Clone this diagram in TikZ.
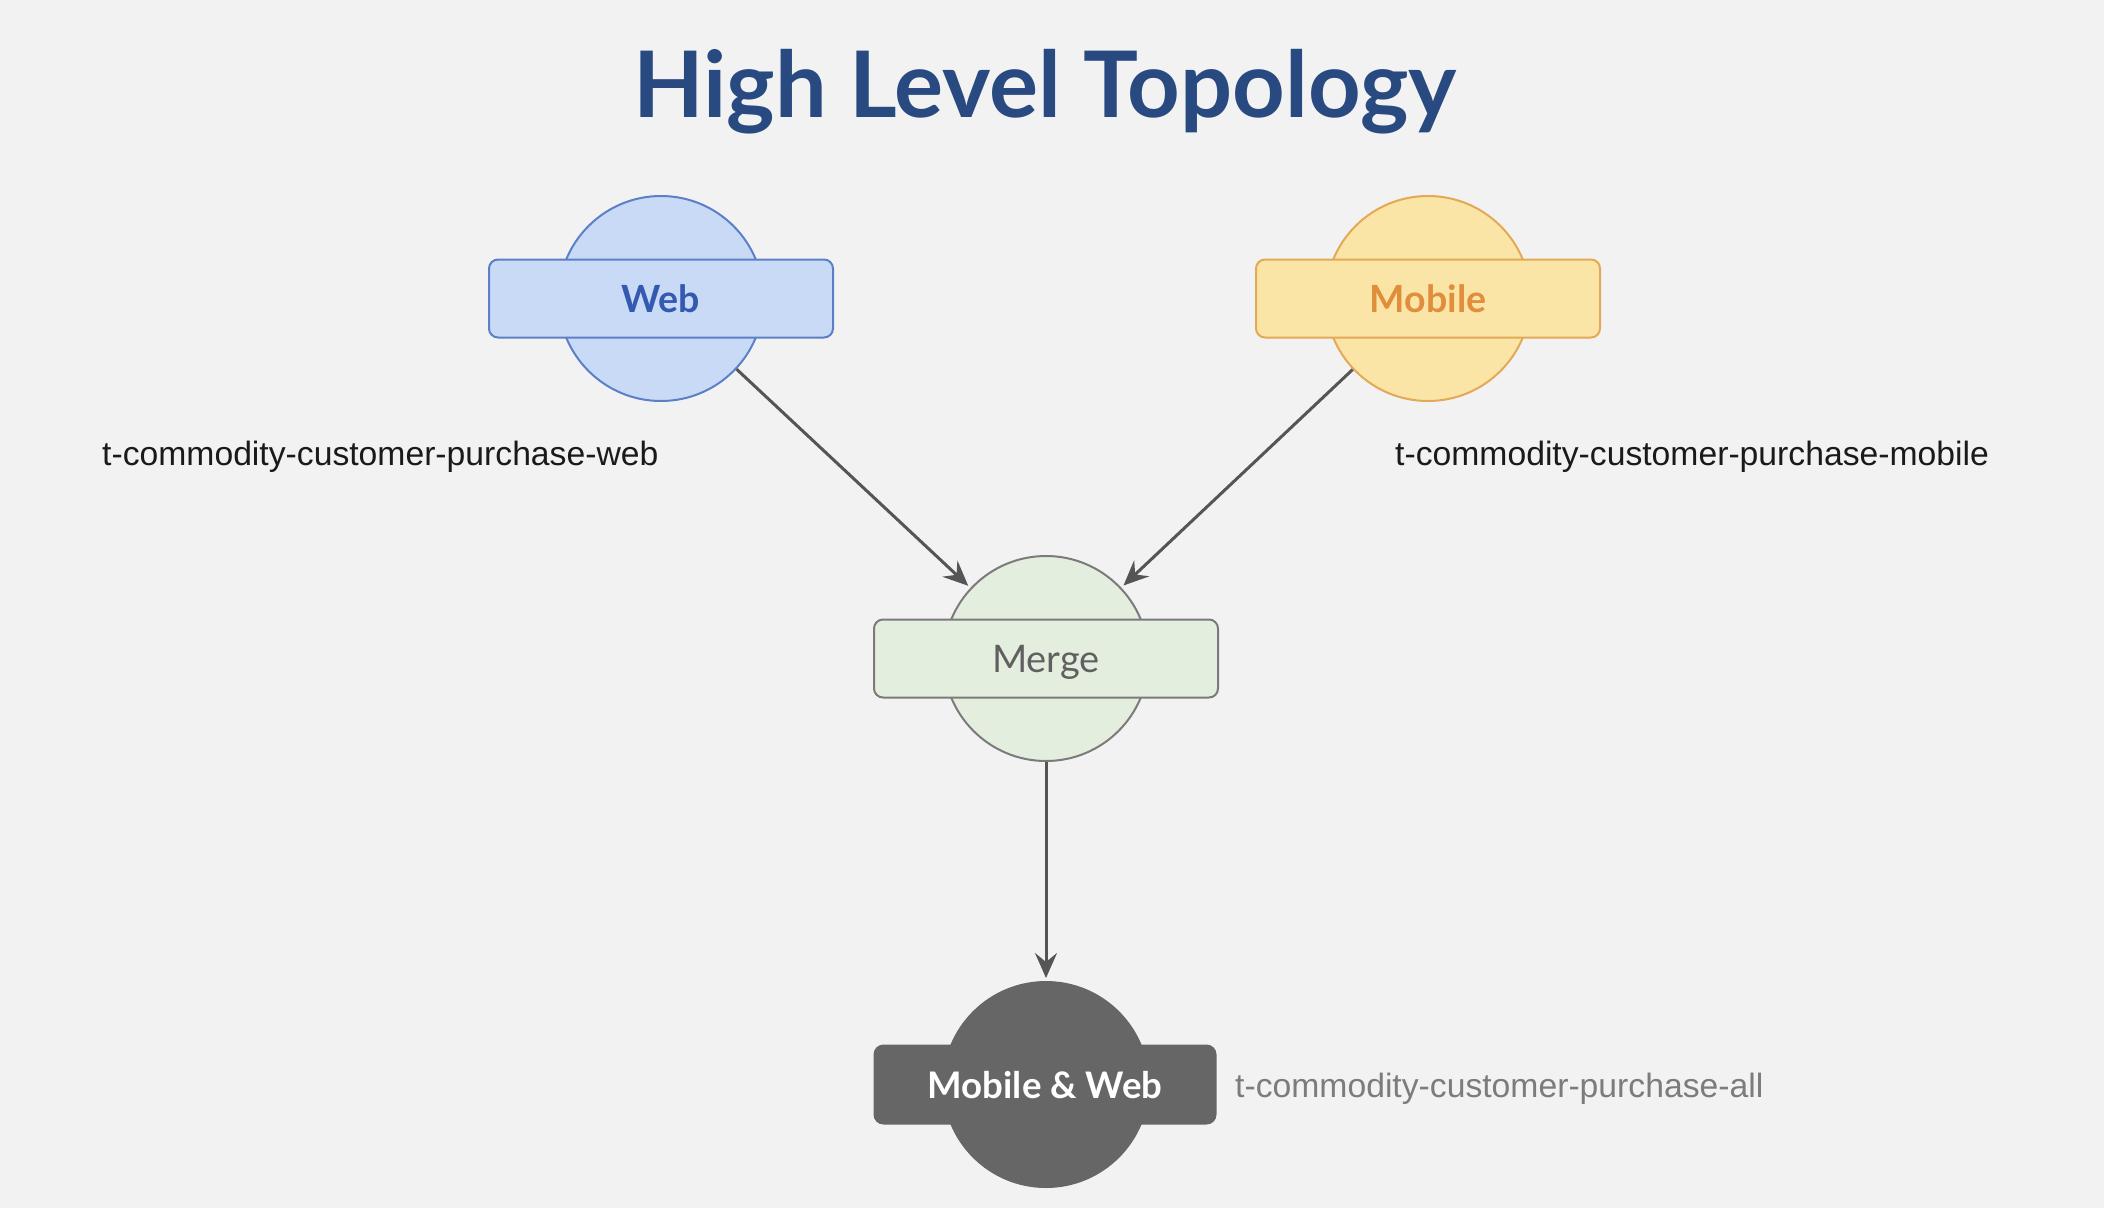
\documentclass[tikz,border=0pt]{standalone}
\usepackage{fontspec}
\newfontfamily\lato{Lato}
\newfontfamily\arial{Liberation Sans}
\usetikzlibrary{arrows.meta}
\definecolor{bg}{HTML}{F2F2F2}
\definecolor{titlec}{HTML}{284A80}
\definecolor{webfill}{HTML}{C9DAF6}
\definecolor{webline}{HTML}{5B80C8}
\definecolor{webtext}{HTML}{3359B0}
\definecolor{mobfill}{HTML}{FAE5A6}
\definecolor{mobline}{HTML}{E3A957}
\definecolor{mobtext}{HTML}{E08E3C}
\definecolor{mrgfill}{HTML}{E4EEDE}
\definecolor{mrgline}{HTML}{7B7B7B}
\definecolor{mrgtext}{HTML}{606060}
\definecolor{allfill}{HTML}{666666}
\definecolor{alltext}{HTML}{7C7C7C}
\definecolor{labc}{HTML}{1A1A1A}
\definecolor{linec}{HTML}{555555}
\tikzset{
  disc/.style={circle, minimum size=205pt, inner sep=0pt, line width=2pt},
  bar/.style={rectangle, rounded corners=9pt, minimum width=344pt, minimum height=78pt,
    inner sep=0pt, line width=2pt, text height=27pt, text depth=0pt,
    font=\lato\fontsize{38}{42}\selectfont},
  link/.style={draw=linec, line width=3pt, -{Stealth[length=25pt,width=22pt,inset=9pt]}, shorten >=3pt},
  topic/.style={anchor=base west, inner sep=0pt, font=\arial\fontsize{33.7}{40}\selectfont}
}
\begin{document}
\begin{tikzpicture}[x=1pt,y=-1pt]
\fill[bg] (0,0) rectangle (2104,1208);
\useasboundingbox (0,0) rectangle (2104,1208);
\node[anchor=base, inner sep=0pt, text=titlec, font=\lato\bfseries\fontsize{91.8}{100}\selectfont] (title) at (1045,117) {High Level Topology};
% Web
\node[disc, fill=webfill, draw=webline] (web) at (661,298.5) {};
\node[bar, fill=webfill, draw=webline, text=webtext, font=\lato\bfseries\fontsize{37.5}{42}\selectfont] (webbox) at (661,298.5) {Web};
% Mobile
\node[disc, fill=mobfill, draw=mobline] (mob) at (1428,298.5) {};
\node[bar, fill=mobfill, draw=mobline, text=mobtext, font=\lato\bfseries\fontsize{37.5}{42}\selectfont] (mobbox) at (1428,298.5) {Mobile};
% Merge
\node[disc, fill=mrgfill, draw=mrgline] (merge) at (1046,658.5) {};
\node[bar, fill=mrgfill, draw=mrgline, text=mrgtext] (mergebox) at (1046,658.5) {Merge};
% All
\node[disc, fill=allfill, draw=allfill] (all) at (1046,1084.5) {};
\node[bar, minimum width=341pt, fill=allfill, draw=allfill, text=white, font=\lato\bfseries\fontsize{36.6}{42}\selectfont] (allbox) at (1045,1084.5) {Mobile \& Web};
% labels
\node[topic, text=labc] (webl) at (102,465) {t-commodity-customer-purchase-web};
\node[topic, text=labc] (mobl) at (1395,465) {t-commodity-customer-purchase-mobile};
\node[topic, text=alltext] (alll) at (1235,1097) {t-commodity-customer-purchase-all};
% connectors
\draw[link] (web) -- (merge);
\draw[link] (mob) -- (merge);
\draw[link] (merge) -- (all);
\end{tikzpicture}
\end{document}
